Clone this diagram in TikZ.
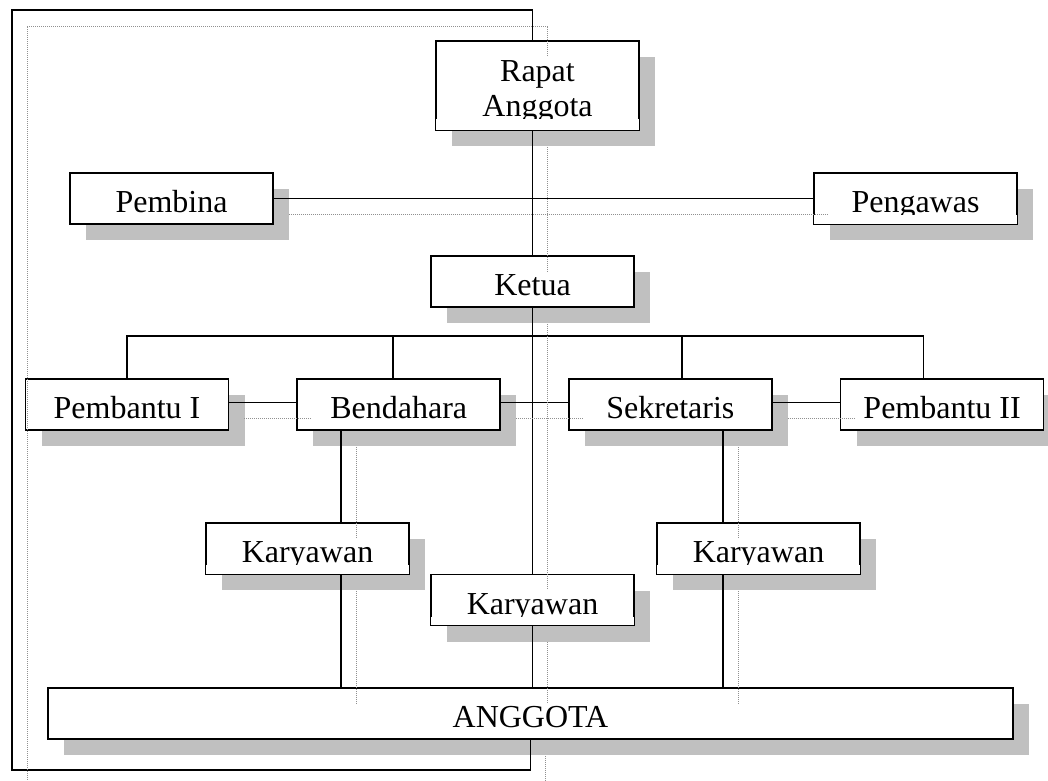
\documentclass[tikz,border=0pt]{standalone}
\usepackage{fontspec}
\setmainfont{Liberation Serif}
\usepackage{tikz}
\usetikzlibrary{positioning,shadows}
\definecolor{shadegray}{HTML}{C0C0C0}
\definecolor{lineshade}{HTML}{909090}
\tikzset{
  box/.style={draw,fill=white,line width=1.7pt,minimum width=203pt,inner sep=0pt,
    text height=39.5pt,text depth=11.5pt,align=center,font=\fontsize{32}{35}\selectfont,
    drop shadow={shadow xshift=16pt,shadow yshift=-16pt,fill=shadegray,opacity=1}},
  conn/.style={line width=1.7pt},
  shade/.style={lineshade,line width=1pt,densely dotted},
  mask/.style={fill=white}
}
\newcommand{\orgconn}[1]{%
  \draw[#1] (rapat.north -| ketua.north) |- (loopa) -- (loopb) -| (anggota.south);
  \draw[#1] (rapat.south -| ketua.north) -- (ketua.north);
  \draw[#1] (pembina.east) -- (pengawas.west);
  \draw[#1] (ketua.south) -- (kar2.north);
  \draw[#1] (kar2.south) -- (kar2.south |- anggota.north);
  \draw[#1] ([yshift=2pt]pb1.east) -- ([yshift=2pt]bend.west);
  \draw[#1] ([yshift=2pt]bend.east) -- ([yshift=2pt]sekr.west);
  \draw[#1] ([yshift=2pt]sekr.east) -- ([yshift=2pt]pb2.west);
  \draw[#1] (k1 |- bend.south) -- (k1);
  \draw[#1] (k1 |- kar1.south) -- (k1 |- anggota.north);
  \draw[#1] (k3 |- sekr.south) -- (k3);
  \draw[#1] (k3 |- kar3.south) -- (k3 |- anggota.north);
}

\begin{document}
\begin{tikzpicture}[x=1pt,y=-1pt]
\useasboundingbox (0,0) rectangle (1048,780);

\node[box, minimum height=89pt, text height=75pt, text depth=14pt] (rapat) at (537.5,85.5) {Rapat\\Anggota};
\node[box] (pembina) at (171.5,198.5) {Pembina};
\node[box] (pengawas) at (915.5,198.5) {Pengawas};
\node[box] (ketua) at (532.5,281.5) {Ketua};
\node[box] (pb1) at (127,404.5) {Pembantu I};
\node[box, right=67pt of pb1] (bend) {Bendahara};
\node[box, right=67pt of bend] (sekr) {Sekretaris};
\node[box, right=67pt of sekr] (pb2) {Pembantu II};
\node[box] (kar1) at (307.5,548.5) {Karyawan};
\node[box] (kar2) at (532.5,600) {Karyawan};
\node[box] (kar3) at (758.5,548.5) {Karyawan};
\node[box, minimum width=965pt] (anggota) at (530.5,713.5) {ANGGOTA};

\foreach \n in {pengawas,kar1,kar2,kar3}
  \fill[mask] ([shift={(1pt,1pt)}]\n.south west) rectangle ([shift={(-1pt,9.5pt)}]\n.south east);
\fill[mask] ([shift={(1pt,1pt)}]rapat.south west) rectangle ([shift={(-1pt,12pt)}]rapat.south east);

\coordinate (loopa) at (12,10);
\coordinate (loopb) at (12,770);
\coordinate (d2) at ([xshift=-5.5pt]bend.north);
\coordinate (d3) at ([xshift=11.5pt]sekr.north);
\coordinate (d4) at ([xshift=-18.5pt]pb2.north);
\coordinate (k1) at ([xshift=33.5pt]kar1.north);
\coordinate (k3) at ([xshift=-35.5pt]kar3.north);

\orgconn{conn}
\draw[conn] (pb1.north) -- ++(0,-42) -| (d4);
\draw[conn] (d2) -- ++(0,-42);
\draw[conn] (d3) -- ++(0,-42);
\begin{scope}[transform canvas={shift={(15pt,-16pt)}}]
\orgconn{shade}
\end{scope}
\end{tikzpicture}
\end{document}
